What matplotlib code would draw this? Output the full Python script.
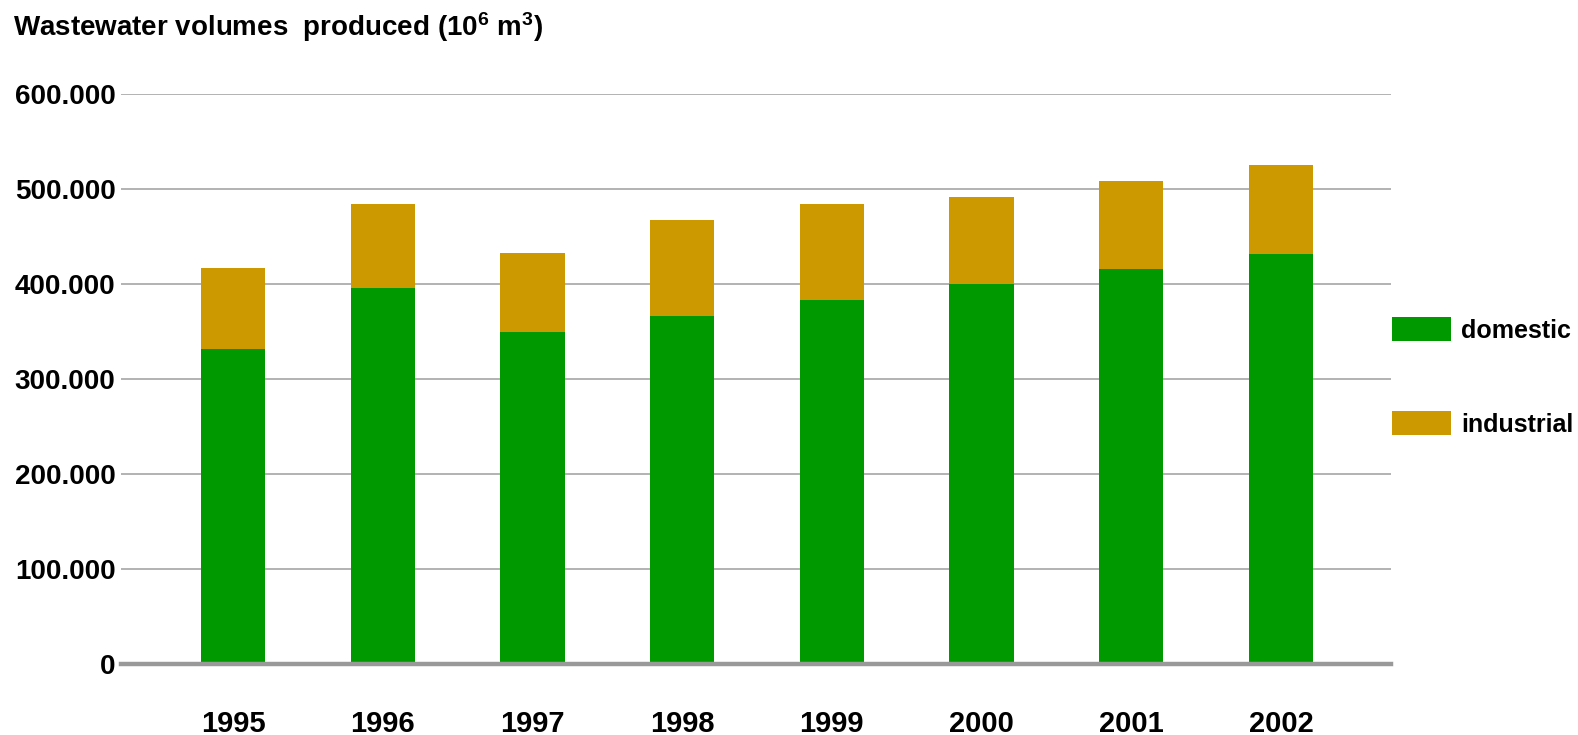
import matplotlib
matplotlib.use("Agg")
import matplotlib.pyplot as plt
import numpy as np

years = ["1995", "1996", "1997", "1998", "1999", "2000", "2001", "2002"]
domestic = [332, 396, 349, 366, 383, 400, 416, 432]
industrial = [85, 88, 84, 101, 101, 92, 92, 93]
yticks = [0, 100, 200, 300, 400, 500, 600]
ytick_labels = ["0", "100.000", "200.000", "300.000", "400.000", "500.000", "600.000"]

GREEN = "#009900"
GOLD = "#CC9900"

plt.rcParams['font.family'] = ['Liberation Sans', 'DejaVu Sans']
plt.rcParams['mathtext.fontset'] = 'custom'
plt.rcParams['mathtext.rm'] = 'Liberation Sans:bold'
plt.rcParams['mathtext.bf'] = 'Liberation Sans:bold'
plt.rcParams['mathtext.it'] = 'Liberation Sans:bold'

FS = 20
LFS = 18
W, H = 1578, 735
fig = plt.figure(figsize=(W / 100, H / 100), dpi=100)
left, right, top, bottom = 121, 1391, 94, 664
ax = fig.add_axes([left / W, 1 - bottom / H, (right - left) / W, (bottom - top) / H])

x = np.arange(len(years))
bw = 0.43
b1 = ax.bar(x, domestic, bw, color=GREEN, zorder=3, label="domestic")
b2 = ax.bar(x, industrial, bw, bottom=domestic, color=GOLD, zorder=3, label="industrial")

ax.set_xlim(-0.748, 7.735)
ax.set_ylim(0, 600)
ax.set_yticks(yticks)
ax.set_yticklabels(ytick_labels, fontsize=FS, fontweight='bold')
ax.set_xticks(x)
ax.set_xticklabels(years, fontsize=FS + 1, fontweight='bold')
ax.tick_params(axis='y', length=0, pad=4)
ax.tick_params(axis='x', length=0, pad=33)
for s in ax.spines.values():
    s.set_visible(False)
ax.yaxis.grid(True, color="#a6a6a6", linewidth=1.2, zorder=1)
ax.axhline(0, color="#999999", linewidth=3.2, zorder=4, clip_on=False)

fig.text(13 / W, 1 - 36 / H, r"Wastewater volumes  produced (10$^{6}$ m$^{3}$)",
         fontsize=FS, fontweight='bold', ha='left', va='baseline')

fig.legend(handles=[b1, b2], labels=["domestic", "industrial"],
           loc='center left', bbox_to_anchor=(1392 / W, 1 - 377 / H),
           frameon=False, prop={'weight': 'bold', 'size': LFS},
           handlelength=2.36, handleheight=1.08, labelspacing=2.75,
           handletextpad=0.4, borderaxespad=0, borderpad=0)

fig.savefig("out.png", dpi=100)
